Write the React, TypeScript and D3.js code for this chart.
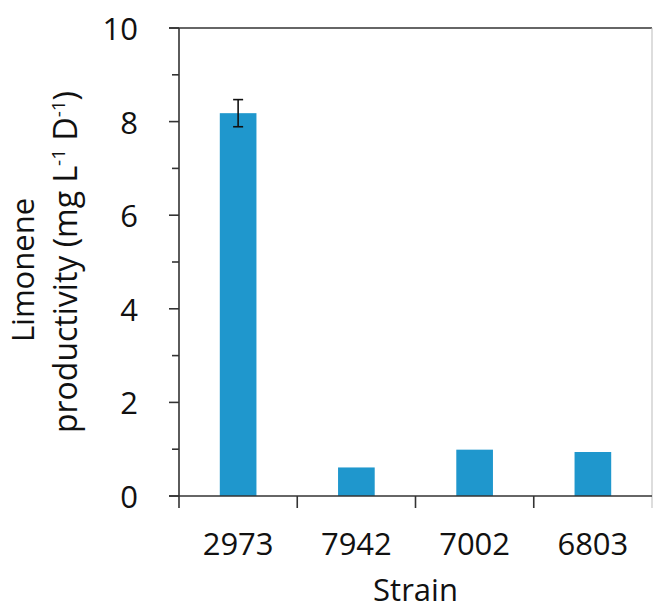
import React from "react";
import * as d3 from "d3";

// strains and limonene productivity (mg L-1 D-1)
const strains = ["2973", "7942", "7002", "6803"];
const productivity = [8.18, 0.61, 0.99, 0.94];
const errors = [0.29, 0, 0, 0];
const majorTicks = [0, 2, 4, 6, 8, 10];
const minorTicks = [1, 3, 5, 7, 9];

const W = 653,
  H = 608;
const margin = { top: 28, right: 1, bottom: 112, left: 179 };
const font = "'Open Sans', sans-serif";

const App = () => {
  const x = d3
    .scaleBand()
    .domain(strains)
    .range([margin.left, W - margin.right])
    .paddingInner(0.69)
    .paddingOuter(0.345);

  const y = d3
    .scaleLinear()
    .domain([0, 10])
    .range([H - margin.bottom, margin.top]);

  const step = x.step();
  const left = margin.left;
  const right = W - margin.right;
  const base = y(0);

  return (
    <svg
      width={W}
      height={H}
      style={{ position: "absolute", left: 0, top: 0, background: "#fff" }}
      fontFamily={font}
    >
      {/* frame */}
      <line x1={left - 10} x2={right} y1={y(10)} y2={y(10)} stroke="#333" strokeWidth={1.6} />
      <line x1={right} x2={right} y1={y(10)} y2={base + 12} stroke="#bbb" strokeWidth={1} />

      {/* bars */}
      {strains.map((s, i) => (
        <rect
          key={s}
          x={x(s)}
          y={y(productivity[i])}
          width={x.bandwidth()}
          height={base - y(productivity[i])}
          fill="#1f97cd"
        />
      ))}

      {/* error bars */}
      {strains.map((s, i) =>
        errors[i] > 0 ? (
          <g key={s} stroke="#111" strokeWidth={1.6}>
            <line
              x1={x(s)! + x.bandwidth() / 2}
              x2={x(s)! + x.bandwidth() / 2}
              y1={y(productivity[i] + errors[i])}
              y2={y(productivity[i] - errors[i])}
            />
            <line
              x1={x(s)! + x.bandwidth() / 2 - 5}
              x2={x(s)! + x.bandwidth() / 2 + 5}
              y1={y(productivity[i] + errors[i])}
              y2={y(productivity[i] + errors[i])}
            />
            <line
              x1={x(s)! + x.bandwidth() / 2 - 5}
              x2={x(s)! + x.bandwidth() / 2 + 5}
              y1={y(productivity[i] - errors[i])}
              y2={y(productivity[i] - errors[i])}
            />
          </g>
        ) : null
      )}

      {/* y axis */}
      <line x1={left} x2={left} y1={y(10)} y2={base} stroke="#333" strokeWidth={1.6} />
      {majorTicks.map((t) => (
        <g key={t}>
          <line x1={left - 10} x2={left} y1={y(t)} y2={y(t)} stroke="#333" strokeWidth={1.6} />
          <text
            x={138}
            y={y(t)}
            textAnchor="end"
            dominantBaseline="central"
            fontSize={31}
            fill="#111"
          >
            {t}
          </text>
        </g>
      ))}
      {minorTicks.map((t) => (
        <line key={t} x1={left - 7} x2={left} y1={y(t)} y2={y(t)} stroke="#333" strokeWidth={1.6} />
      ))}

      {/* x axis */}
      <line x1={left - 10} x2={right} y1={base} y2={base} stroke="#333" strokeWidth={1.6} />
      {d3.range(strains.length).map((i) => (
        <line
          key={i}
          x1={left + i * step}
          x2={left + i * step}
          y1={base}
          y2={base + 12}
          stroke="#333"
          strokeWidth={1.6}
        />
      ))}
      {strains.map((s) => (
        <text
          key={s}
          x={x(s)! + x.bandwidth() / 2}
          y={555}
          textAnchor="middle"
          fontSize={31}
          fill="#111"
        >
          {s}
        </text>
      ))}
      <text x={(left + right) / 2} y={601} textAnchor="middle" fontSize={31} fill="#111">
        Strain
      </text>

      {/* y title */}
      <g transform={`translate(34, ${(y(0) + y(10)) / 2}) rotate(-90)`} fontSize={31} fill="#111">
        <text x={-8} y={0} textAnchor="middle">
          Limonene
        </text>
        <text x={0} y={43} textAnchor="middle" fontSize={32}>
          productivity (mg L
          <tspan fontSize={19} dy={-12}>-1</tspan>
          <tspan dy={12}> D</tspan>
          <tspan fontSize={19} dy={-12}>-1</tspan>
          <tspan dy={12}>)</tspan>
        </text>
      </g>
    </svg>
  );
};

export default App;
